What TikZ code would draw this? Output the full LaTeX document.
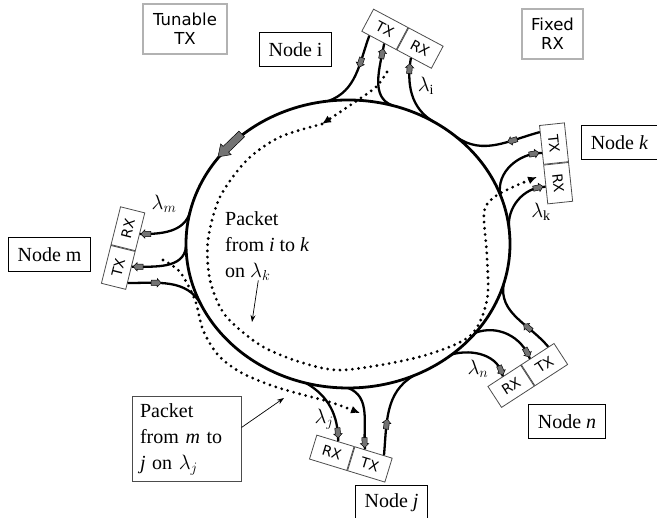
\documentclass[tikz,border=0pt]{standalone}
\usepackage{fontspec}
\setmainfont{Liberation Serif}
\newfontfamily\dejavu{DejaVu Sans}
\usetikzlibrary{arrows.meta,positioning,decorations.markings}

\newcommand{\fibmark}[1][]{\filldraw[#1,fill=black!55,draw=black,line width=.5pt] (-5,-2.6) -- (1,-2.6) -- (1,-4.2) -- (5,0) -- (1,4.2) -- (1,2.6) -- (-5,2.6) -- cycle;}

\tikzset{
  ring/.style={line width=2.8pt},
  fiber/.style={line width=2.3pt},
  fwd/.style={postaction={decorate,decoration={markings,mark=at position #1 with {\fibmark}}}},
  bwd/.style={postaction={decorate,decoration={markings,mark=at position #1 with {\fibmark[xscale=-1]}}}},
  ringarrow/.style={fill=black!55, draw=black, line width=.5pt},
  txrx/.style={draw=black!70, line width=.8pt, minimum width=39pt, minimum height=25pt, inner sep=0pt, font=\dejavu\fontsize{14}{14}\selectfont},
  nodebox/.style={draw, line width=1pt, inner xsep=9pt, minimum height=34pt, font=\fontsize{20}{24}\selectfont},
  legend/.style={draw=black!30, line width=1.2pt, align=center, font=\dejavu\fontsize{16.5}{19}\selectfont},
  lbl/.style={font=\fontsize{20}{24}\selectfont},
  pkt/.style={align=left, font=\fontsize{20}{26}\selectfont},
  dotline/.style={line width=3.1pt, line cap=round, dash pattern=on 0pt off 6.2pt},
  dottip/.style={-{Latex[length=9pt,width=8pt]}},
  thinarrow/.style={line width=.7pt, -{Stealth[length=7pt,width=5pt]}}
}

\begin{document}
\begin{tikzpicture}[x=1pt,y=1pt]
  \useasboundingbox (0,0) rectangle (657,518);

  \coordinate (c) at (348,274);
  \draw[ring] (c) ellipse [x radius=162, y radius=144];
  \filldraw[ringarrow, shift={(229.5,372.2)}, rotate=224] (-17,-4) -- (5,-4) -- (5,-7.5) -- (16,0) -- (5,7.5) -- (5,4) -- (-17,4) -- cycle;
  \foreach \nm/\t in {i1/97,i2/74,i3/58,k1/48,k2/20,k3/6,m1/167,m2/181,m3/205,n1/-16,n2/-38,n3/-50,j1/-105,j2/-90,j3/-66}
    \path (c) ++(\t:162 and 144) coordinate (r\nm);

  \node[legend, minimum width=84pt, minimum height=50pt] (tunable) at (185,489) {Tunable\\TX};
  \node[legend, minimum width=61pt, minimum height=50pt] (fixed) at (552.5,484) {Fixed\\RX};

  \node[nodebox] (nodei) at (295.5,468.5) {Node i};
  \node[nodebox] (nodek) at (619.5,375.5) {Node \textit{k}};
  \node[nodebox] (nodem) at (49.5,263) {Node m};
  \node[nodebox] (noden) at (567,96.5) {Node \textit{n}};
  \node[nodebox] (nodej) at (391.5,15.5) {Node \textit{j}};

  \node[txrx, rotate=-28] (iTX) at (384.9,488.6) {TX};
  \node[txrx, rotate=-28, right=0pt of iTX] (iRX) {RX};
  \node[txrx, rotate=-84] (kTX) at (554,374.4) {TX};
  \node[txrx, rotate=-84, right=0pt of kTX] (kRX) {RX};
  \node[txrx, rotate=76] (mTX) at (118.3,250.6) {TX};
  \node[txrx, rotate=76, right=0pt of mTX] (mRX) {RX};
  \node[txrx, rotate=33] (nRX) at (511.1,131.7) {RX};
  \node[txrx, rotate=33, right=0pt of nRX] (nTX) {TX};
  \node[txrx, rotate=-17] (jRX) at (331.8,65.2) {RX};
  \node[txrx, rotate=-17, right=0pt of jRX] (jTX) {TX};

  \draw[fiber, fwd=.35] (iTX.-130) to[out=-110, in=20] (ri1);
  \draw[fiber, bwd=.15] (iTX.-65) to[out=-100, in=160] (ri2);
  \draw[fiber, bwd=.15] (iRX.-105) to[out=-100, in=150] (ri3);
  \draw[fiber, fwd=.33] (kTX.-135) to[out=195, in=-35] (rk1);
  \draw[fiber, bwd=.12] (kTX.-58) to[out=180, in=100] (rk2);
  \draw[fiber, bwd=.12] (kRX.-80) to[out=180, in=97] (rk3);
  \draw[fiber, bwd=.1] (mRX.-100) to[out=0, in=-105] (rm1);
  \draw[fiber, bwd=.1] (mTX.-73) to[out=0, in=-95] (rm2);
  \draw[fiber, fwd=.35] (mTX.-135) to[out=0, in=118] (rm3);
  \draw[fiber, fwd=.35] (nTX.45) to[out=130, in=-100] (rn1);
  \draw[fiber, bwd=.1] (nTX.125) to[out=110, in=20] (rn2);
  \draw[fiber, bwd=.1] (nRX.97) to[out=100, in=15] (rn3);
  \draw[fiber, bwd=.12] (jRX.78) to[out=90, in=-30] (rj1);
  \draw[fiber, bwd=.1] (jTX.125) to[out=95, in=-20] (rj2);
  \draw[fiber, fwd=.35] (jTX.50) to[out=85, in=-150] (rj3);

  \node[lbl] (lami) at (426,432) {$\lambda_{\mathrm{i}}$};
  \node[lbl] (lamk) at (541,306) {$\lambda_{\mathrm{k}}$};
  \node[lbl] (lamm) at (164,314) {$\lambda_m$};
  \node[lbl] (lamn) at (478,149) {$\lambda_n$};
  \node[lbl] (lamj) at (324,99) {$\lambda_j$};

  % packet i -> k inside the ring, packet m -> j outside
  \draw[dotline, dottip] plot[smooth] coordinates {(387,446) (376,431) (352,414) (322,394)};
  \draw[dotline, dottip] plot[smooth] coordinates {(322,394) (280,381) (247,358) (220,321) (208,278) (210,238) (225,203) (260,173) (300,156) (343,148) (419,161) (470,182) (487,218) (487,261) (484,305) (493,320) (513,331) (537,341)};
  \draw[dotline, dottip] plot[smooth] coordinates {(163,258) (180,246) (195,218) (203,188) (218,163) (240,146) (270,133) (300,124) (330,116) (360,105)};

  \node[pkt, anchor=north west, inner sep=0pt] (pik) at (225,307) {Packet\\from \textit{i} to \textit{k}\\on $\lambda_k$};
  \coordinate (pikend) at (252,196);
  \draw[thinarrow] ([xshift=-9pt]pik.south) -- (pikend);

  \node[pkt, draw=black!70, line width=1pt, text width=93pt, inner xsep=8pt, minimum height=85pt] (pmj) at (186.5,78.5) {Packet\\from \textit{m} to\\\textit{j} on $\lambda_j$};
  \coordinate (pmjend) at (284,120);
  \draw[thinarrow] ([yshift=12pt]pmj.east) -- (pmjend);
\end{tikzpicture}
\end{document}
